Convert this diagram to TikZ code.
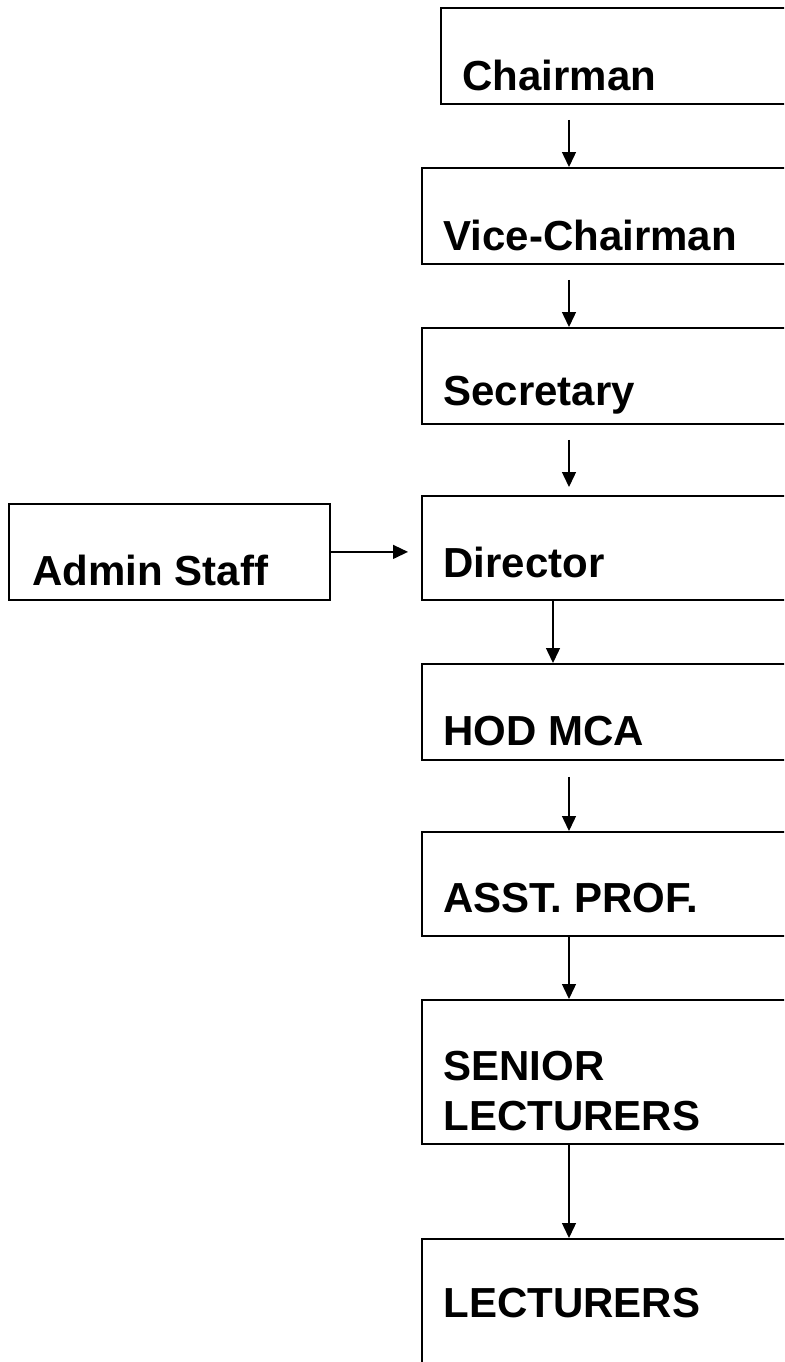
\documentclass[tikz,border=0pt]{standalone}
\usepackage{fontspec}
\setmainfont{Liberation Sans}
\usetikzlibrary{arrows.meta}

\begin{document}
\begin{tikzpicture}[x=0.5pt, y=-0.5pt, >={Triangle[length=7.5pt,width=7pt]},
                    box/.style={draw, line width=0.9pt, rectangle, anchor=north west,
                                minimum width=220pt, inner sep=0pt},
                    lbl/.style={anchor=base west, inner sep=0pt, align=left,
                                font=\fontsize{21}{25}\selectfont\bfseries},
                    arr/.style={->, line width=0.7pt}]
      \useasboundingbox (0,0) rectangle (784,1362);
      \clip (0,0) rectangle (784,1362);

      % Nodes
      \node[box, minimum height=48pt] (chair) at (440,7) {};
      \node[box, minimum height=48pt] (vice) at (421,167) {};
      \node[box, minimum height=48pt] (sec) at (421,327) {};
      \node[box, minimum height=52pt] (dir) at (421,495) {};
      \node[box, minimum height=48pt, minimum width=160.5pt] (admin) at (8,503) {};
      \node[box, minimum height=48pt] (hod) at (421,663) {};
      \node[box, minimum height=52pt] (asst) at (421,831) {};
      \node[box, minimum height=72pt] (senior) at (421,999) {};
      \node[box, minimum height=80pt] (lect) at (421,1238) {};

      % Labels
      \node[lbl] at (462,90) {Chairman};
      \node[lbl] at (443,250) {Vice-Chairman};
      \node[lbl] at (443,405) {Secretary};
      \node[lbl] at (443,577) {Director};
      \node[lbl] at (32,585) {Admin Staff};
      \node[lbl] at (443,745) {HOD MCA};
      \node[lbl] at (443,912) {ASST. PROF.};
      \node[lbl] at (443,1130) {SENIOR\\LECTURERS};
      \node[lbl] at (443,1317) {LECTURERS};

      % Directed Edges
      \coordinate (spine) at (569,0);
      \coordinate (spineb) at (553,0);
      \draw[arr, shorten <=7.5pt] (chair.south -| spine) -- (vice.north -| spine);
      \draw[arr, shorten <=7.5pt] (vice.south -| spine) -- (sec.north -| spine);
      \draw[arr, shorten <=7.5pt, shorten >=4pt] (sec.south -| spine) -- (dir.north -| spine);
      \draw[arr] (dir.south -| spineb) -- (hod.north -| spineb);
      \draw[arr, shorten <=8pt] (hod.south -| spine) -- (asst.north -| spine);
      \draw[arr] (asst.south -| spine) -- (senior.north -| spine);
      \draw[arr] (senior.south -| spine) -- (lect.north -| spine);
      \draw[arr, shorten >=6.5pt] (admin.east) -- (admin.east -| dir.west);

    \end{tikzpicture}
\end{document}
